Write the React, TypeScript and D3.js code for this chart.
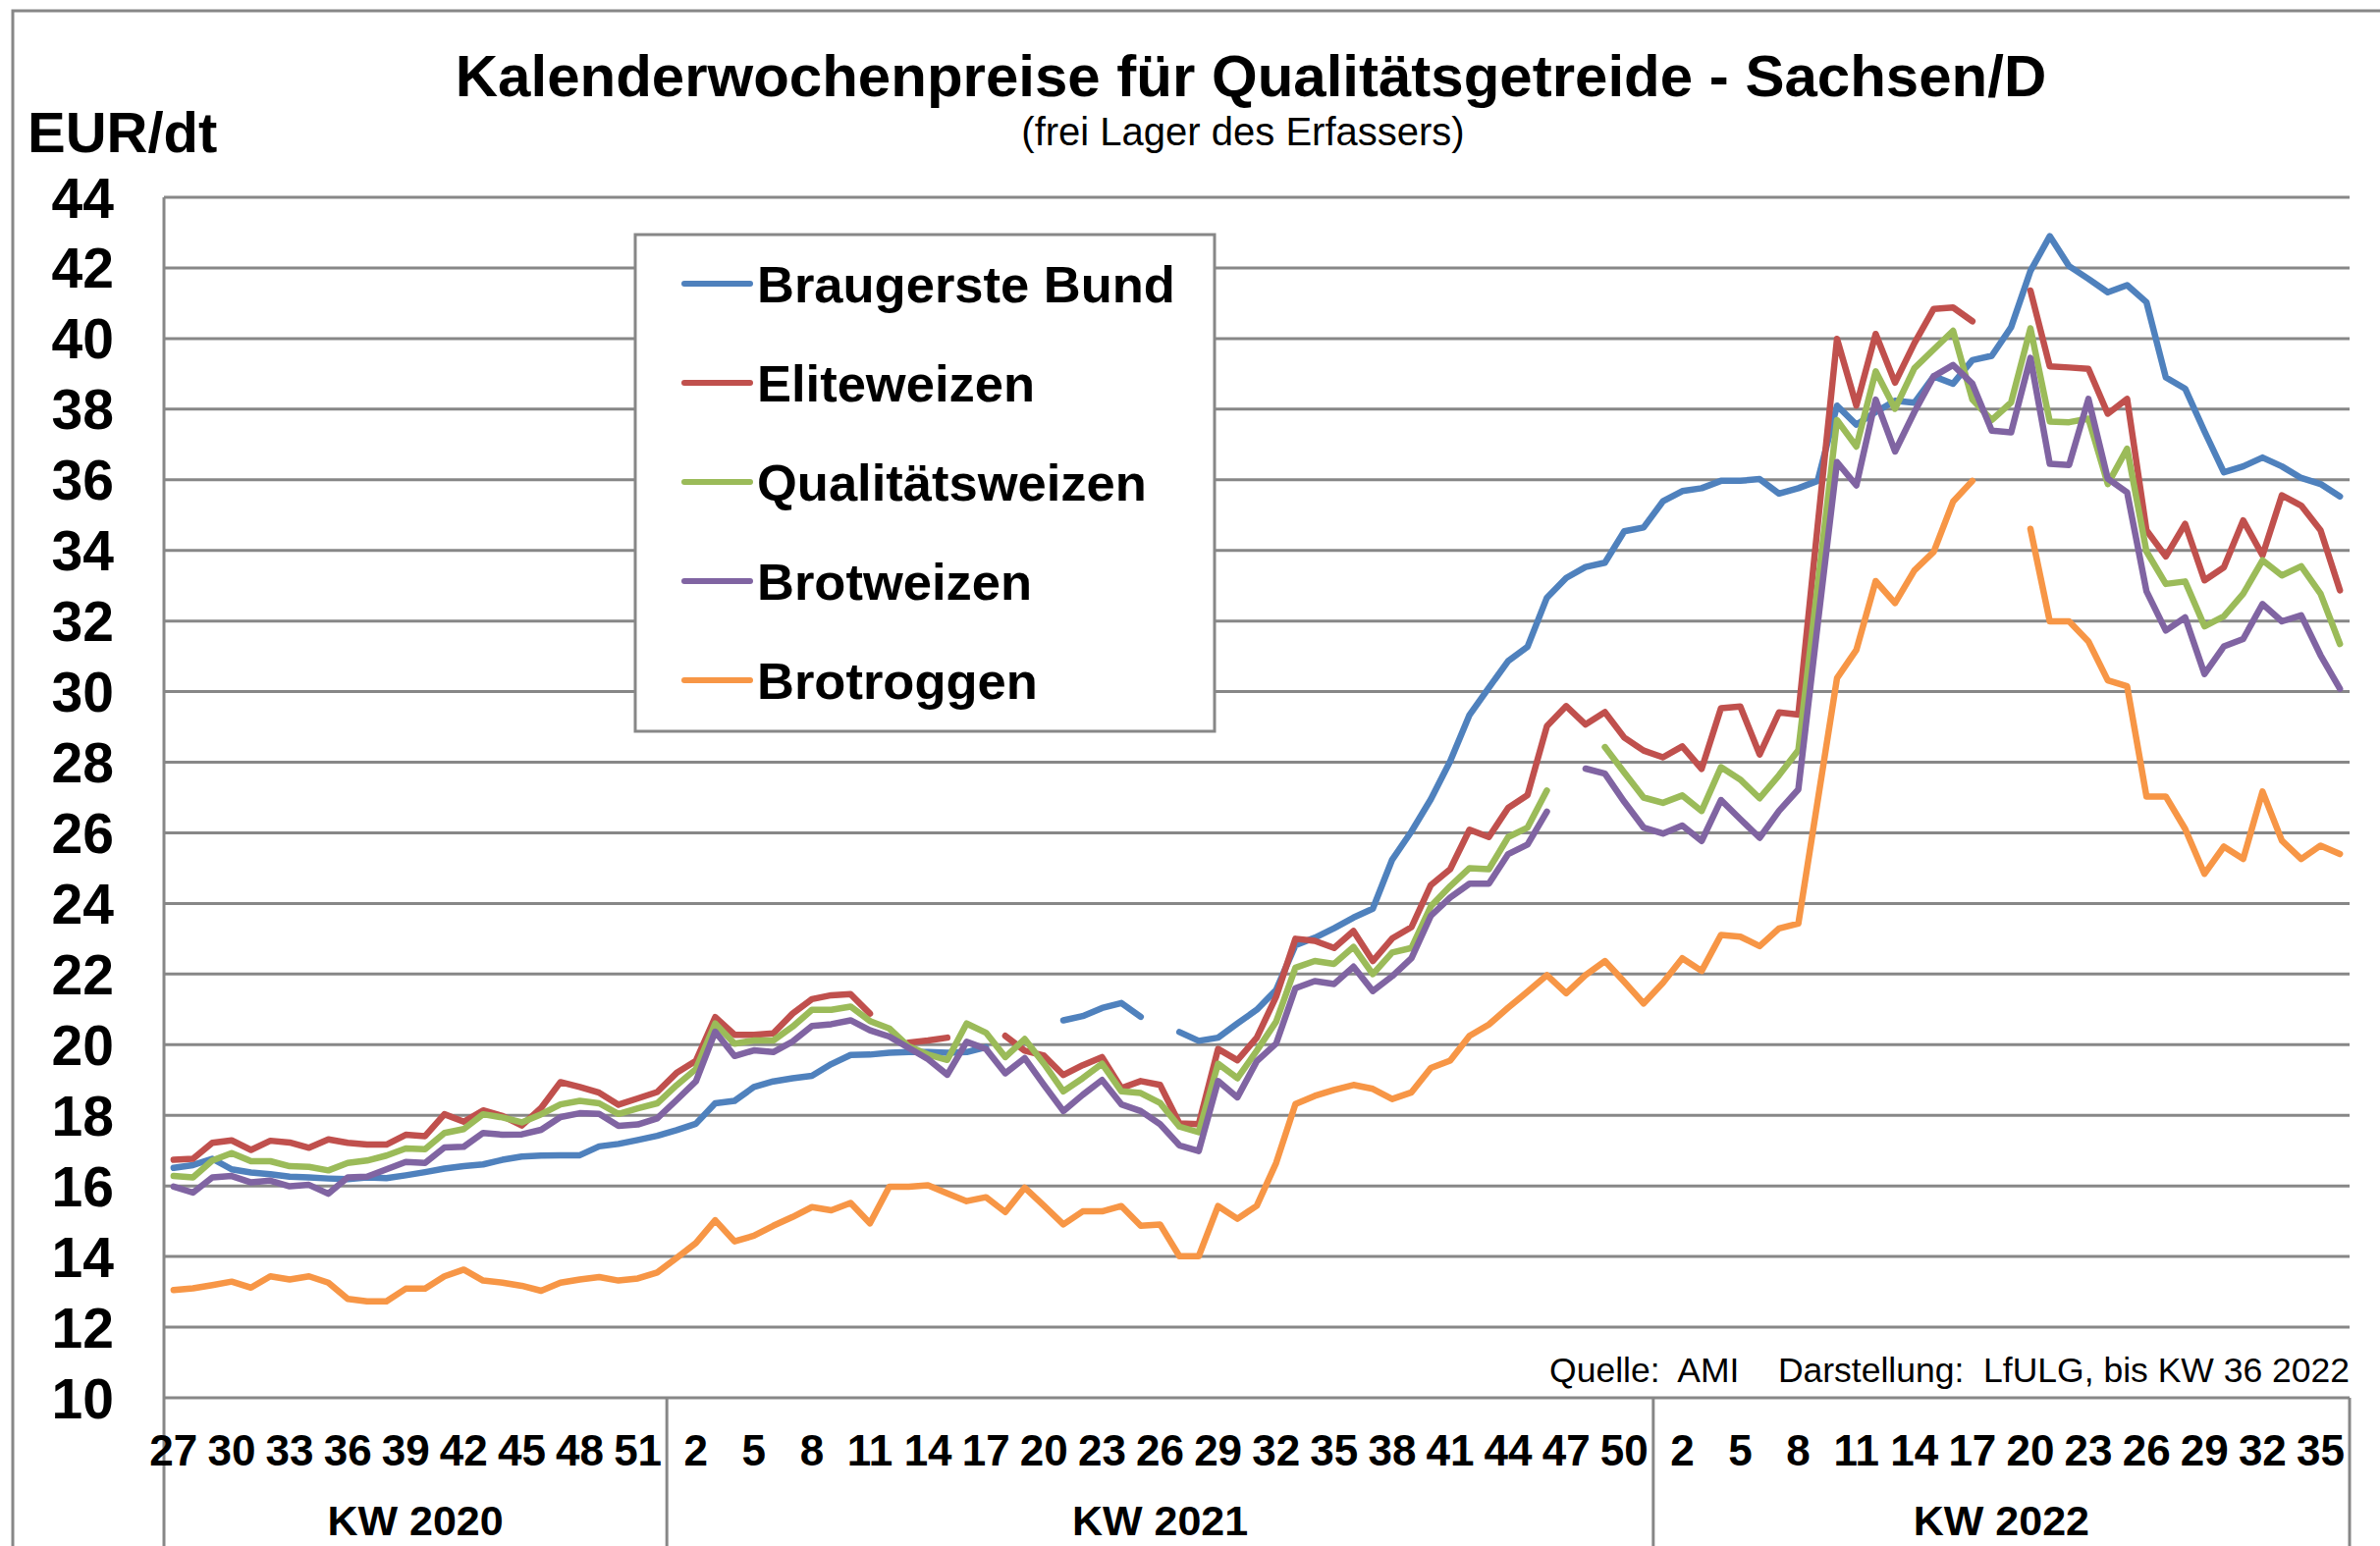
import React from "react";
import * as d3 from "d3";

// ---- categories (calendar weeks) ----
const weeks2020 = [27, 28, 29, 30, 31, 32, 33, 34, 35, 36, 37, 38, 39, 40, 41, 42, 43, 44, 45, 46, 47, 48, 49, 50, 51, 52];
const weeks2021 = [1, 2, 3, 4, 5, 6, 7, 8, 9, 10, 11, 12, 13, 14, 15, 16, 17, 18, 19, 20, 21, 22, 23, 24, 25, 26, 27, 28, 29, 30, 31, 32, 33, 34, 35, 36, 37, 38, 39, 40, 41, 42, 43, 44, 45, 46, 47, 48, 49, 50, 51];
const weeks2022 = [1, 2, 3, 4, 5, 6, 7, 8, 9, 10, 11, 12, 13, 14, 15, 16, 17, 18, 19, 20, 21, 22, 23, 24, 25, 26, 27, 28, 29, 30, 31, 32, 33, 34, 35, 36];
const groupLabels = ["KW 2020", "KW 2021", "KW 2022"];
const yTicks = [10, 12, 14, 16, 18, 20, 22, 24, 26, 28, 30, 32, 34, 36, 38, 40, 42, 44];

// ---- series (EUR/dt), null = no quotation ----
const braugerste = [
  16.51, 16.59, 16.77, 16.47, 16.38, 16.33, 16.26, 16.24, 16.21, 16.19, 16.24, 16.22, 16.30, 16.39, 16.49, 16.56, 16.61, 16.74, 16.83, 16.86,
  16.87, 16.87, 17.12, 17.19, 17.30, 17.42, 17.58, 17.76, 18.34, 18.41, 18.80, 18.96, 19.05, 19.12, 19.45, 19.71, 19.72, 19.77, 19.79, 19.79,
  19.77, 19.79, 19.93, null, null, null, 20.69, 20.81, 21.04, 21.18, 20.79, null, 20.36, 20.11, 20.20, 20.60, 20.99, 21.55, 22.82, 23.03,
  23.30, 23.60, 23.85, 25.24, 26.04, 26.95, 28.03, 29.34, 30.11, 30.87, 31.27, 32.66, 33.22, 33.53, 33.65, 34.54, 34.65, 35.39, 35.68, 35.76,
  35.97, 35.97, 36.02, 35.61, 35.76, 35.97, 38.10, 37.56, 37.92, 38.24, 38.18, 38.93, 38.72, 39.39, 39.51, 40.32, 41.91, 42.90, 42.05, 41.69,
  41.31, 41.51, 41.03, 38.90, 38.58, 37.37, 36.21, 36.38, 36.63, 36.38, 36.05, 35.88, 35.53,
];
const eliteweizen = [
  16.74, 16.77, 17.22, 17.29, 17.02, 17.28, 17.23, 17.08, 17.32, 17.22, 17.17, 17.17, 17.45, 17.41, 18.03, 17.82, 18.14, 17.98, 17.71, 18.21,
  18.94, 18.80, 18.64, 18.30, 18.48, 18.66, 19.20, 19.54, 20.78, 20.28, 20.28, 20.32, 20.88, 21.29, 21.40, 21.43, 20.88, null, 20.06, 20.12,
  20.20, null, null, 20.25, 19.83, 19.69, 19.14, 19.42, 19.65, 18.77, 18.97, 18.86, 17.77, 17.75, 19.88, 19.56, 20.20, 21.36, 23.00, 22.94,
  22.74, 23.22, 22.37, 23.01, 23.33, 24.52, 24.97, 26.09, 25.88, 26.71, 27.07, 29.02, 29.59, 29.07, 29.42, 28.70, 28.33, 28.14, 28.45, 27.81,
  29.53, 29.58, 28.22, 29.41, 29.35, 34.70, 39.99, 38.10, 40.13, 38.75, 39.87, 40.84, 40.88, 40.49, null, null, 41.36, 39.21, 39.18, 39.14,
  37.87, 38.29, 34.57, 33.83, 34.75, 33.15, 33.52, 34.85, 33.86, 35.56, 35.27, 34.57, 32.87,
];
const qualitaetsweizen = [
  16.28, 16.24, 16.72, 16.93, 16.70, 16.70, 16.56, 16.54, 16.44, 16.65, 16.72, 16.86, 17.06, 17.04, 17.50, 17.61, 18.03, 17.94, 17.80, 18.03,
  18.31, 18.41, 18.34, 18.04, 18.20, 18.34, 18.85, 19.31, 20.60, 20.03, 20.12, 20.12, 20.51, 20.99, 20.99, 21.08, 20.67, 20.46, 19.95, 19.72,
  19.57, 20.60, 20.34, 19.65, 20.16, 19.46, 18.68, 19.05, 19.46, 18.68, 18.63, 18.35, 17.68, 17.52, 19.46, 19.05, 19.83, 20.65, 22.18, 22.37,
  22.29, 22.77, 22.00, 22.61, 22.74, 23.92, 24.49, 25.00, 24.97, 25.88, 26.15, 27.20, null, null, 28.43, 27.71, 27.00, 26.85, 27.06, 26.62,
  27.86, 27.51, 26.98, 27.63, 28.34, 33.00, 37.69, 36.94, 39.07, 38.01, 39.16, 39.69, 40.22, 38.27, 37.69, 38.19, 40.29, 37.65, 37.63, 37.73,
  35.88, 36.88, 33.97, 33.05, 33.12, 31.85, 32.13, 32.77, 33.72, 33.29, 33.55, 32.77, 31.35,
];
const brotweizen = [
  15.98, 15.81, 16.24, 16.28, 16.10, 16.15, 15.99, 16.03, 15.78, 16.24, 16.26, 16.47, 16.68, 16.65, 17.09, 17.11, 17.50, 17.45, 17.46, 17.59,
  17.95, 18.06, 18.04, 17.70, 17.74, 17.91, 18.43, 18.96, 20.37, 19.68, 19.84, 19.79, 20.09, 20.53, 20.58, 20.69, 20.41, 20.23, 19.91, 19.59,
  19.15, 20.08, 19.88, 19.19, 19.62, 18.86, 18.12, 18.58, 19.00, 18.31, 18.12, 17.75, 17.15, 16.99, 18.97, 18.51, 19.53, 20.03, 21.60, 21.80,
  21.72, 22.21, 21.52, 21.94, 22.45, 23.65, 24.17, 24.56, 24.56, 25.40, 25.67, 26.60, null, 27.82, 27.68, 26.88, 26.15, 25.98, 26.21, 25.77,
  26.93, 26.39, 25.86, 26.62, 27.23, 31.90, 36.50, 35.84, 38.27, 36.80, 37.92, 38.93, 39.25, 38.72, 37.39, 37.34, 39.45, 36.45, 36.42, 38.29,
  36.03, 35.64, 32.84, 31.73, 32.10, 30.50, 31.28, 31.49, 32.48, 31.99, 32.16, 31.03, 30.08,
];
const brotroggen = [
  13.05, 13.10, 13.19, 13.29, 13.12, 13.44, 13.35, 13.44, 13.26, 12.80, 12.73, 12.73, 13.09, 13.09, 13.44, 13.63, 13.32, 13.26, 13.17, 13.03,
  13.26, 13.35, 13.42, 13.32, 13.38, 13.55, 13.96, 14.38, 15.03, 14.43, 14.59, 14.87, 15.12, 15.40, 15.31, 15.52, 14.94, 15.98, 15.98, 16.02,
  15.79, 15.57, 15.68, 15.26, 15.95, 15.44, 14.91, 15.28, 15.28, 15.43, 14.87, 14.91, 14.01, 14.01, 15.43, 15.07, 15.44, 16.65, 18.32, 18.55,
  18.72, 18.86, 18.75, 18.46, 18.65, 19.34, 19.55, 20.25, 20.57, 21.05, 21.50, 21.97, 21.46, 21.97, 22.37, 21.78, 21.17, 21.75, 22.45, 22.09,
  23.11, 23.06, 22.79, 23.29, 23.43, 26.90, 30.38, 31.18, 33.13, 32.51, 33.43, 33.96, 35.38, 35.97, null, null, 34.61, 31.99, 31.99, 31.42,
  30.32, 30.15, 27.03, 27.03, 26.11, 24.84, 25.61, 25.26, 27.17, 25.78, 25.26, 25.64, 25.40,
];

const seriesNames = ["Braugerste Bund", "Eliteweizen", "Qualitätsweizen", "Brotweizen", "Brotroggen"];
const seriesColors = ["#4F81BD", "#C0504D", "#9BBB59", "#8064A2", "#F79646"];
const seriesValues = [braugerste, eliteweizen, qualitaetsweizen, brotweizen, brotroggen];

const title = "Kalenderwochenpreise für Qualitätsgetreide - Sachsen/D";
const subtitle = "(frei Lager des Erfassers)";
const unitLabel = "EUR/dt";
const sourceNote = "Quelle:  AMI    Darstellung:  LfULG, bis KW 36 2022";

const W = 2424;
const H = 1575;
const M = { left: 167, right: 2393, top: 201, bottom: 1424 };
const FONT = "'Liberation Sans', Arial, sans-serif";
const GRID = "#878787";

type Cat = { key: string; week: number; group: number };

export default function App() {
  const groups = [weeks2020, weeks2021, weeks2022];
  const cats: Cat[] = [];
  groups.forEach((g, gi) => g.forEach((w) => cats.push({ key: `${gi}-${w}`, week: w, group: gi })));

  const x = d3.scaleBand<string>().domain(cats.map((c) => c.key)).range([M.left, M.right]).padding(0);
  const cx = (i: number) => (x(cats[i].key) as number) + x.bandwidth() / 2;
  const y = d3.scaleLinear().domain([10, 44]).range([M.bottom, M.top]);

  const line = d3
    .line<number | null>()
    .defined((d) => d !== null)
    .x((_, i) => cx(i))
    .y((d) => y(d as number));

  // group boundaries
  const boundaries: number[] = [];
  let acc = 0;
  groups.forEach((g) => {
    boundaries.push(x(cats[acc].key) as number);
    acc += g.length;
  });
  boundaries.push(M.right);

  const legendX = 647, legendY = 239, legendW = 590, legendH = 506;

  return (
    <svg width={W} height={H} style={{ position: "absolute", left: 0, top: 0, background: "#fff" }} fontFamily={FONT}>
      <rect x={0} y={0} width={W} height={H} fill="#fff" />
      {/* chart area border */}
      <rect x={13} y={11} width={W + 100} height={H + 100} fill="none" stroke={GRID} strokeWidth={3} />

      {/* title */}
      <text x={1274} y={98} textAnchor="middle" fontSize={60} fontWeight="bold" fill="#000">{title}</text>
      <text x={1266} y={148} textAnchor="middle" fontSize={40} fill="#000">{subtitle}</text>
      <text x={28} y={155} fontSize={58} fontWeight="bold" fill="#000">{unitLabel}</text>

      {/* grid lines */}
      {yTicks.map((t) => (
        <line key={t} x1={M.left} x2={M.right} y1={y(t)} y2={y(t)} stroke={GRID} strokeWidth={3} />
      ))}
      {/* y axis */}
      <line x1={M.left} x2={M.left} y1={M.top} y2={H} stroke={GRID} strokeWidth={3} />
      {boundaries.slice(1).map((b, i) => (
        <line key={i} x1={b} x2={b} y1={M.bottom} y2={H} stroke={GRID} strokeWidth={3} />
      ))}

      {/* y tick labels */}
      {yTicks.map((t) => (
        <text key={t} x={116} y={y(t)} dy="0.36em" textAnchor="end" fontSize={57} fontWeight="bold" fill="#000">{t}</text>
      ))}

      {/* x tick labels */}
      {cats.map((c, i) =>
        i % 3 === 0 ? (
          <text key={c.key} x={cx(i)} y={1493} textAnchor="middle" fontSize={44} fontWeight="bold" fill="#000">{c.week}</text>
        ) : null
      )}
      {groupLabels.map((g, gi) => (
        <text key={g} x={(boundaries[gi] + boundaries[gi + 1]) / 2} y={1564} textAnchor="middle" fontSize={43} fontWeight="bold" fill="#000">{g}</text>
      ))}

      {/* source note */}
      <text x={2393} y={1408} textAnchor="end" fontSize={35.5} fill="#000" style={{ whiteSpace: "pre" }}>{sourceNote}</text>

      {/* series */}
      {seriesValues.map((vals, si) => (
        <path key={si} d={line(vals) || ""} fill="none" stroke={seriesColors[si]} strokeWidth={6.5} strokeLinejoin="round" strokeLinecap="round" />
      ))}

      {/* legend */}
      <rect x={legendX} y={legendY} width={legendW} height={legendH} fill="#fff" stroke={GRID} strokeWidth={3} />
      {seriesNames.map((n, i) => {
        const ry = 289 + i * 101;
        return (
          <g key={n}>
            <line x1={697} x2={764} y1={ry} y2={ry} stroke={seriesColors[i]} strokeWidth={6} strokeLinecap="round" />
            <text x={771} y={ry} dy="0.36em" fontSize={52.5} fontWeight="bold" fill="#000">{n}</text>
          </g>
        );
      })}
    </svg>
  );
}
